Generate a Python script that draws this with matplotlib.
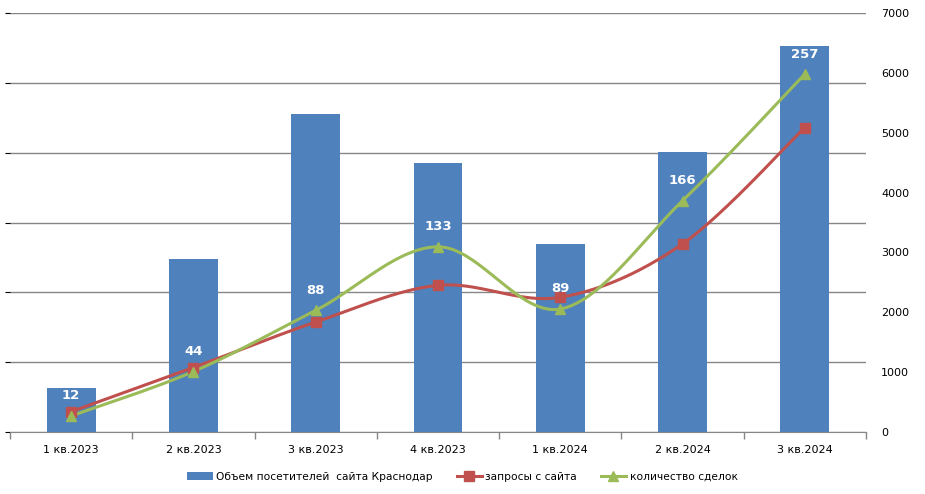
import numpy as np
import matplotlib.pyplot as plt
from matplotlib.patches import Patch
from matplotlib.lines import Line2D

# данные
categories = ["1 кв.2023", "2 кв.2023", "3 кв.2023", "4 кв.2023",
              "1 кв.2024", "2 кв.2024", "3 кв.2024"]
visitors = [0.635, 2.48, 4.56, 3.85, 2.69, 4.01, 5.53]   # left axis (hidden), 6 gridline steps
requests = [340, 1077, 1837, 2450, 2250, 3144, 5087]
deals = [268, 1010, 2032, 3094, 2055, 3864, 5980]
deal_labels = ["12", "44", "88", "133", "89", "166", "257"]

BLUE = "#4F81BD"
RED = "#C0504D"
GREEN = "#9BBB59"
GRID = "#868686"


def smooth(xs, ys, n=40):
    # Excel-like smoothed line (Catmull-Rom through the points)
    xs = np.asarray(xs, float)
    ys = np.asarray(ys, float)
    px = np.concatenate([[xs[0]], xs, [xs[-1]]])
    py = np.concatenate([[ys[0]], ys, [ys[-1]]])
    outx, outy = [], []
    t = np.linspace(0, 1, n)
    for i in range(1, len(px) - 2):
        p0 = np.array([px[i], py[i]])
        p3 = np.array([px[i + 1], py[i + 1]])
        p1 = p0 + (np.array([px[i + 1], py[i + 1]]) - np.array([px[i - 1], py[i - 1]])) / 6
        p2 = p3 - (np.array([px[i + 2], py[i + 2]]) - np.array([px[i], py[i]])) / 6
        b = ((1 - t) ** 3)[:, None] * p0 + (3 * (1 - t) ** 2 * t)[:, None] * p1 \
            + (3 * (1 - t) * t ** 2)[:, None] * p2 + (t ** 3)[:, None] * p3
        outx.extend(b[:, 0])
        outy.extend(b[:, 1])
    return outx, outy


fig = plt.figure(figsize=(9.25, 4.94), dpi=100)
plt.rcParams["font.family"] = ["DejaVu Sans"]

ax = fig.add_axes([10 / 925, 62 / 494, 856 / 925, 419 / 494])
x = np.arange(len(categories))

ax.bar(x, visitors, width=0.4, color=BLUE, zorder=2)
ax.set_ylim(0, 6)
ax.set_yticks(range(7))
ax.yaxis.grid(True, color=GRID, linewidth=1)
ax.set_axisbelow(True)
ax.tick_params(axis="y", left=False, labelleft=False)
ax.set_xlim(-0.5, len(categories) - 0.5)
ax.set_xticks(x)
ax.set_xticklabels(categories, fontsize=8)
ax.set_xticks(np.arange(-0.5, len(categories)), minor=True)
ax.tick_params(axis="x", which="major", length=0, pad=9)
ax.tick_params(axis="x", which="minor", length=5, color=GRID, width=1)
for s in ["top", "right", "left"]:
    ax.spines[s].set_visible(False)
ax.spines["bottom"].set_color(GRID)

ax2 = ax.twinx()
ax2.set_ylim(0, 7000)
ax2.set_yticks(range(0, 7001, 1000))
ax2.tick_params(axis="y", length=0, pad=11, labelsize=8)
for s in ["top", "right", "left", "bottom"]:
    ax2.spines[s].set_visible(False)

sx, sy = smooth(x, requests)
ax2.plot(sx, sy, color=RED, linewidth=2.2, zorder=3)
ax2.plot(x, requests, linestyle="none", marker="s", markersize=6.7, color=RED, zorder=4)
gx, gy = smooth(x, deals)
ax2.plot(gx, gy, color=GREEN, linewidth=2.2, zorder=3)
ax2.plot(x, deals, linestyle="none", marker="^", markersize=7.5, color=GREEN, zorder=4)

for xi, yi, lab in zip(x, deals, deal_labels):
    ax2.annotate(lab, (xi, yi), xytext=(0, 20), textcoords="offset pixels",
                 ha="center", va="center", color="white", fontsize=9.5, fontweight="bold", zorder=5)

handles = [
    Patch(facecolor=BLUE, edgecolor="none"),
    Line2D([], [], color=RED, linewidth=2.2, marker="s", markersize=6.7),
    Line2D([], [], color=GREEN, linewidth=2.2, marker="^", markersize=7.5),
]
names = ["Объем посетителей  сайта Краснодар", "запросы с сайта", "количество сделок"]
fig.legend(handles, names, loc="center", bbox_to_anchor=(0.5, 17 / 494), ncol=3, frameon=False,
           fontsize=7.7, handlelength=2.4, handleheight=0.8, handletextpad=0.3, columnspacing=2.2)

fig.savefig("out.png", dpi=100)
